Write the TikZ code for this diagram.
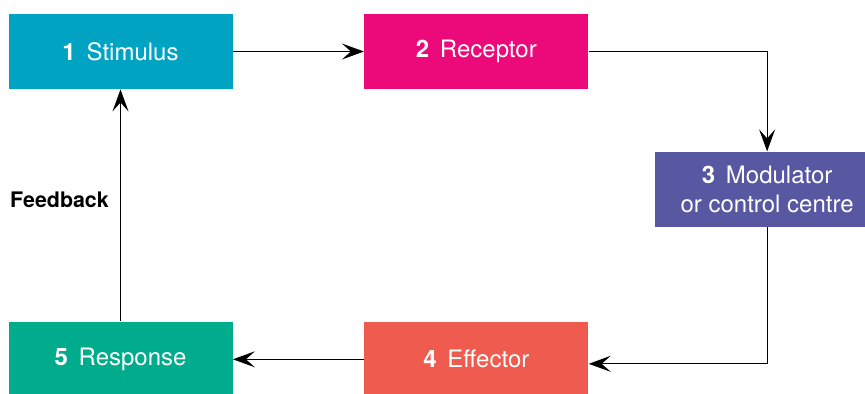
\documentclass[tikz,border=0pt]{standalone}
\usepackage{fontspec}
\setmainfont{TeX Gyre Heros}
\usepackage{xcolor}
\usepackage{tikz}
\usetikzlibrary{arrows.meta,positioning}

\definecolor{stimcol}{HTML}{00A4C2}
\definecolor{reccol}{HTML}{EC0A7B}
\definecolor{modcol}{HTML}{5857A2}
\definecolor{effcol}{HTML}{F05B50}
\definecolor{respcol}{HTML}{00AC8B}

\begin{document}
\begin{tikzpicture}[
    x=0.5pt, y=-0.5pt,
    stage/.style={fill=#1, text=white, align=center, minimum width=112pt,
                  minimum height=37.5pt, inner sep=0pt,
                  font=\fontsize{12}{14.5}\selectfont},
    arrow/.style={-{Stealth[length=11pt,width=8pt,inset=4.5pt]}, line width=0.6pt}
  ]
    \useasboundingbox (0,0) rectangle (865,393);
    \node[stage=stimcol] (stim) at (120.5,51.5) {\textbf{1}\hspace{0.45em}Stimulus};
    \node[stage=reccol, right=65.5pt of stim] (rec) {\textbf{2}\hspace{0.45em}Receptor};
    \node[stage=modcol, below right=31pt and 33pt of rec.south east] (mod)
      {\textbf{3}\hspace{0.45em}Modulator\\or control centre};
    \node[stage=effcol, below=116pt of rec] (eff) {\textbf{4}\hspace{0.45em}Effector};
    \node[stage=respcol, left=65.5pt of eff] (resp) {\textbf{5}\hspace{0.45em}Response};
    \node[font=\fontsize{10.7}{12}\selectfont\bfseries] (fb) at (59.5,200) {Feedback};
    \draw[arrow] (stim) -- (rec);
    \draw[arrow] (rec) -| (mod);
    \draw[arrow] (mod) |- ([yshift=-2.25pt]eff.east);
    \draw[arrow] (eff) -- (resp);
    \draw[arrow] (resp) -- (stim);
  \end{tikzpicture}
\end{document}
